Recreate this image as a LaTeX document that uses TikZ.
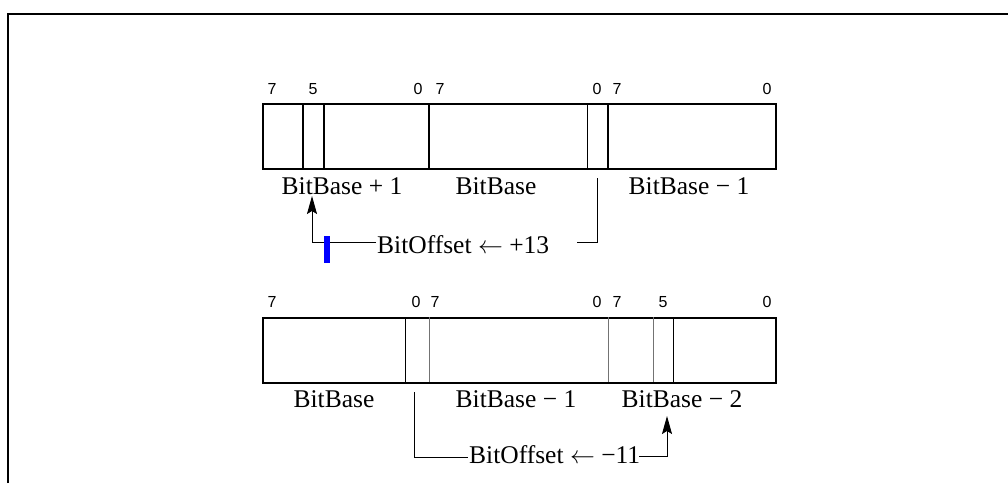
\documentclass[tikz,border=0pt]{standalone}
\usepackage{fontspec}
\setmainfont{Liberation Serif}
\newfontfamily\digitfont{Liberation Sans}
\usetikzlibrary{arrows.meta}

\tikzset{
  frameline/.style={line width=2pt},
  regbox/.style={draw, line width=2pt, rectangle, inner sep=0pt,
                 minimum width=513pt, minimum height=65pt},
  thickdiv/.style={line width=2pt},
  thindiv/.style={line width=1pt},
  greydiv/.style={line width=1pt, black!55},
  bitnum/.style={font=\digitfont\fontsize{16}{16}\selectfont, anchor=base, inner sep=0pt},
  bytelabel/.style={font=\fontsize{25.5}{25.5}\selectfont, anchor=base, inner sep=0pt},
  offlabel/.style={font=\fontsize{25.5}{25.5}\selectfont, anchor=base west, inner sep=0pt},
  leader/.style={line width=1pt},
  pointer/.style={line width=1pt, -{Stealth[length=18pt,width=10pt,inset=3pt]}},
  marker/.style={fill=blue, draw=none}
}

\begin{document}
\begin{tikzpicture}[x=1pt,y=-1pt]
  \useasboundingbox (0,0) rectangle (1008,483);

  % outer frame (top and left edges)
  \draw[frameline] (8.3,483) -- (8.3,14.3) -- (1008,14.3);

  % ---------------- upper register: BitOffset = +13 ----------------
  \node[regbox, anchor=north west] (rowA) at (262,103) {};
  \draw[thickdiv] (303,103) -- (303,168);
  \draw[thickdiv] (324,103) -- (324,168);
  \draw[thickdiv] (429,103) -- (429,168);
  \draw[thindiv]  (587,103) -- (587,168);
  \draw[thickdiv] (608,103) -- (608,168);

  \node[bitnum] (a7a) at (272,94) {7};
  \node[bitnum] (a5)  at (313,94) {5};
  \node[bitnum] (a0a) at (418,94) {0};
  \node[bitnum] (a7b) at (440,94) {7};
  \node[bitnum] (a0b) at (597,94) {0};
  \node[bitnum] (a7c) at (617,94) {7};
  \node[bitnum] (a0c) at (767,94) {0};

  \node[bytelabel] (aPlus)  at (342,194) {BitBase + 1};
  \node[bytelabel] (aBase)  at (496,194) {BitBase};
  \node[bytelabel] (aMinus) at (689,194) {BitBase − 1};

  \node[offlabel] (offA) at (377,253) {BitOffset $\leftarrow$ +13};
  \coordinate (startA) at (597,178);
  \coordinate (rightA) at (577,242);
  \coordinate (leftA)  at (376,242);
  \coordinate (tipA)   at (312,196);
  \draw[leader] (startA) |- (rightA);
  \draw[pointer] (leftA) -| (tipA);
  \fill[marker] (324,236) rectangle (330,263);

  % ---------------- lower register: BitOffset = -11 ----------------
  \node[regbox, anchor=north west] (rowB) at (262,317) {};
  \draw[thindiv] (405,317) -- (405,382);
  \draw[greydiv] (429,317) -- (429,382);
  \draw[greydiv] (608,317) -- (608,382);
  \draw[greydiv] (653,317) -- (653,382);
  \draw[thindiv] (673,317) -- (673,382);

  \node[bitnum] (b7a) at (272,307) {7};
  \node[bitnum] (b0a) at (416,307) {0};
  \node[bitnum] (b7b) at (435,307) {7};
  \node[bitnum] (b0b) at (597,307) {0};
  \node[bitnum] (b7c) at (617,307) {7};
  \node[bitnum] (b5)  at (663,307) {5};
  \node[bitnum] (b0c) at (767,307) {0};

  \node[bytelabel] (bBase)   at (334,407) {BitBase};
  \node[bytelabel] (bMinus1) at (516,407) {BitBase − 1};
  \node[bytelabel] (bMinus2) at (682,407) {BitBase − 2};

  \node[offlabel] (offB) at (469,463) {BitOffset $\leftarrow$ −11};
  \coordinate (startB) at (414,392);
  \coordinate (leftB)  at (468,457);
  \coordinate (rightB) at (639,456);
  \coordinate (tipB)   at (667,416);
  \draw[leader] (startB) |- (leftB);
  \draw[pointer] (rightB) -| (tipB);
\end{tikzpicture}
\end{document}
